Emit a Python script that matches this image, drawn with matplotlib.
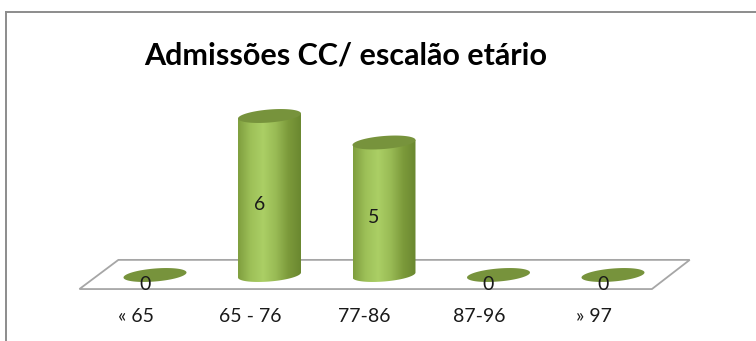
import numpy as np
import matplotlib.pyplot as plt
from matplotlib.patches import Polygon
from matplotlib.lines import Line2D
from matplotlib.colors import LinearSegmentedColormap

plt.rcParams['font.family'] = ['Lato', 'DejaVu Sans']

titulo = "Admissões CC/ escalão etário"
escaloes = ["« 65", "65 - 76", "77-86", "87-96", "» 97"]
admissoes = [0, 6, 5, 0, 0]

W, H = 756, 341
fig = plt.figure(figsize=(W / 100, H / 100), dpi=100)
ax = fig.add_axes([0, 0, 1, 1])

# escala: 114.5 px por categoria, 26.5 px por unidade
px = 1 / 114.5
py = 1 / 26.5
x0, y0 = 155, 275
ax.set_xlim(-x0 * px, (W - x0) * px)
ax.set_ylim(-(H - y0) * py, y0 * py)
ax.axis('off')

# moldura do gráfico
fig.add_artist(Line2D([5.8 / W, 5.8 / W], [0, 1 - 12 / H], color='#8c8c8c', lw=1.4))
fig.add_artist(Line2D([5.8 / W, 1], [1 - 12 / H, 1 - 12 / H], color='#8c8c8c', lw=1.4))

# chão 3D
chao = np.array([[-0.66, -0.53], [-0.32, 0.57], [4.67, 0.57], [4.34, -0.53]])
ax.add_patch(Polygon(chao, closed=True, facecolor='white', edgecolor='#a6a6a6', lw=1.3, zorder=1))

# cilindros
a = 0.275         # meia largura
b = 6.5 * py      # meia altura da elipse
s = 2.5 * py      # inclinação da elipse
cmap = LinearSegmentedColormap.from_list(
    'verde', ['#7f9e3e', '#9dc058', '#abcf65', '#99bb55', '#7c9a3b', '#6a872f'])
grad = np.linspace(0, 1, 256).reshape(1, -1)

t = np.linspace(0, 2 * np.pi, 200)
for i, v in enumerate(admissoes):
    cx = i
    # corpo
    arco = np.linspace(0, -np.pi, 100)
    corpo = [(cx - a, -s), (cx - a, v - s), (cx + a, v + s)]
    corpo += [(cx + a * np.cos(u), b * np.sin(u) + s * np.cos(u)) for u in arco]
    corpo = np.array(corpo)
    if v > 0:
        pc = Polygon(corpo, closed=True, facecolor='none', edgecolor='none', zorder=2)
        ax.add_patch(pc)
        im = ax.imshow(grad, cmap=cmap, aspect='auto', zorder=2,
                       extent=[cx - a, cx + a, -b - s, v + s])
        im.set_clip_path(pc)
    # topo
    topo = np.column_stack([cx + a * np.cos(t), v + b * np.sin(t) + s * np.cos(t)])
    ax.add_patch(Polygon(topo, closed=True, facecolor='#77933c', edgecolor='none', zorder=3))
    # rótulo do valor
    ax.text(cx - 0.09, v / 2 - 0.34, str(v), ha='center', va='center',
            fontsize=14, color='#1a1a1a', zorder=4)

ax.set_xlim(-x0 * px, (W - x0) * px)
ax.set_ylim(-(H - y0) * py, y0 * py)

# categorias
for i, nome in enumerate(escaloes):
    ax.text(i - 0.17, -41 * py, nome, ha='center', va='center', fontsize=14, color='#1a1a1a')

fig.text(346 / W, 1 - 55 / H, titulo, ha='center', va='center',
         fontsize=22, fontweight='bold', color='black')

fig.savefig('out.png', dpi=100, facecolor='white')
